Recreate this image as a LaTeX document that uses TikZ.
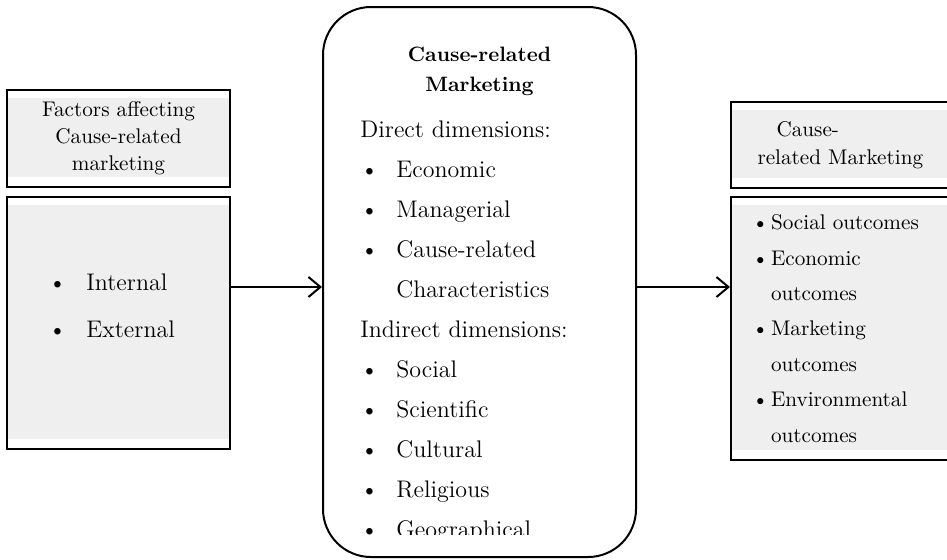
\documentclass[tikz,border=0pt]{standalone}
\usepackage{amsmath}
\usepackage{tikz}
\usetikzlibrary{arrows,arrows.meta,shapes,positioning}
\usepackage{xcolor}
\definecolor{crmgrey}{RGB}{239,239,239}
\tikzstyle{arrow} = [line width=0.8pt,->,>={Straight Barb[length=6pt,width=10pt,line width=1pt]},color=black]
\tikzstyle{panel} = [rectangle, draw=black, line width=1pt, fill=crmgrey, inner sep=0pt,
  path picture={\fill[white] (path picture bounding box.north west) rectangle ([yshift=-4pt]path picture bounding box.north east);
                \fill[white] (path picture bounding box.south west) rectangle ([yshift=5pt]path picture bounding box.south east);}]
\tikzstyle{hub} = [rectangle, rounded corners=24pt, draw=black, line width=1pt, fill=white]
\newcommand{\crmitem}[2][18pt]{\makebox[#1][l]{\textbullet}#2}

\begin{document}
\begin{tikzpicture}[x=0.5pt, y=-0.5pt]
\useasboundingbox (0,0) rectangle (947,559);

% Factors (left)
\node (factors) [panel, minimum width=111.5pt, minimum height=48.5pt, align=center, font=\fontsize{10.6}{13.5}\selectfont] at (118.5,138.5) {Factors affecting\\Cause-related\\marketing};
\node (drivers) [panel, minimum width=111.5pt, minimum height=126pt] at (118.5,323) {};
\node (driverlist) [anchor=north west, inner sep=0pt, align=left, font=\fontsize{12}{23.5}\selectfont] at (48,273.3) {\crmitem[19pt]{Internal}\\\crmitem[19pt]{External}};

% Cause-related marketing (centre)
\node (hub) [hub, minimum width=156.5pt, minimum height=275pt] at (479.5,282) {};
\node (hubtitle) [anchor=north, inner sep=0pt, align=center, font=\bfseries\fontsize{10.4}{15}\selectfont] at (479.5,46.5) {Cause-related\\Marketing};
\begin{scope}
\clip (323,0) rectangle (636,534);
\node (dims) [anchor=north west, inner sep=0pt, align=left, font=\fontsize{12}{20}\selectfont] at (360,120.3) {Direct dimensions:\\
  \crmitem{Economic}\\
  \crmitem{Managerial}\\
  \crmitem{Cause-related}\\
  \hspace*{18pt}Characteristics\\
  Indirect dimensions:\\
  \crmitem{Social}\\
  \crmitem{Scientific}\\
  \crmitem{Cultural}\\
  \crmitem{Religious}\\
  \crmitem{Geographical}};
\end{scope}

% Outcomes (right)
\node (outhead) [panel, minimum width=110.5pt, minimum height=43pt, text width=84pt, align=left, font=\fontsize{10.6}{14}\selectfont] at (841.5,145) {\hspace*{9.5pt}Cause-\\related Marketing};
\node (outcomes) [panel, minimum width=110.5pt, minimum height=131.5pt, text width=89.5pt, align=left, font=\fontsize{10.6}{17.7}\selectfont] at (841.5,328.5) {\crmitem[9.5pt]{Social outcomes}\\
  \crmitem[9.5pt]{Economic}\\
  \hspace*{9.5pt}outcomes\\
  \crmitem[9.5pt]{Marketing}\\
  \hspace*{9.5pt}outcomes\\
  \crmitem[9.5pt]{Environmental}\\
  \hspace*{9.5pt}outcomes};

% Arrows
\coordinate (arrowrow) at (0,287);
\draw[arrow] (drivers.east |- arrowrow) -- (hub.west |- arrowrow);
\draw[arrow] (hub.east |- arrowrow) -- (outcomes.west |- arrowrow);

\end{tikzpicture}
\end{document}
